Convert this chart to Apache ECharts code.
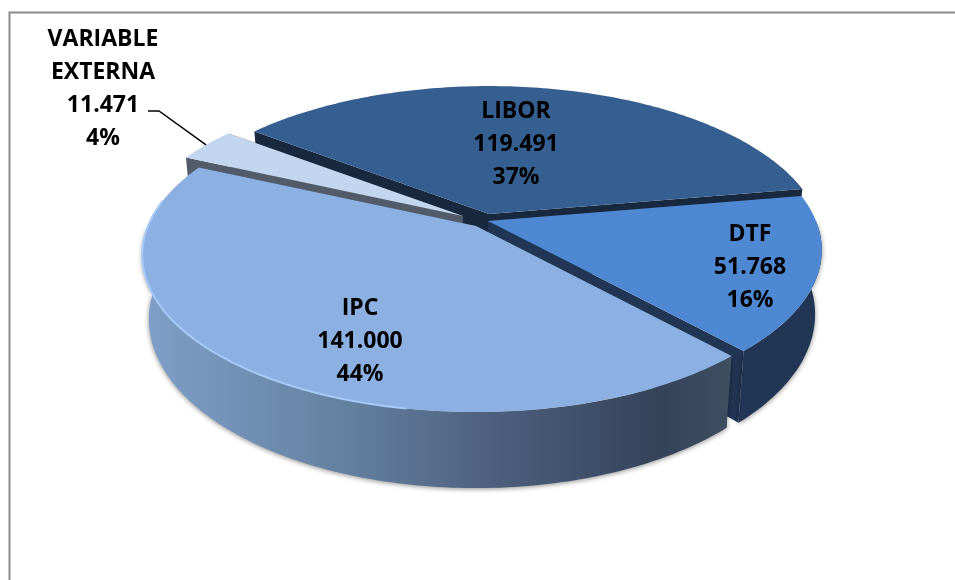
<!DOCTYPE html>
<html>
<head>
<meta charset="utf-8">
<title>Deuda por tasa</title>
<style>
  html, body { margin: 0; padding: 0; background: #fff; }
  #chart { width: 955px; height: 580px; }
</style>
<script src="https://cdn.jsdelivr.net/npm/echarts@6/dist/echarts.min.js"></script>
</head>
<body>
<div id="chart"></div>
<script>
// clockwise from the LIBOR slice
const categories = ['LIBOR', 'DTF', 'IPC', 'VARIABLE\nEXTERNA']
const values = [119491, 51768, 141000, 11471]
const percentLabels = ['37%', '16%', '44%', '4%']

// back to front, so the nearer slices hide the cut faces behind them
const drawOrder = [0, 3, 1, 2]

// tilted disc
const START_ANGLE = 217.3
const RX = 328
const RY = 151.6
const PERSPECTIVE = 0.185
const DEPTH = 62
const BOTTOM_SHRINK = 0.98

// slice apex after the explosion
const apexes = [[489, 214], [488, 221], [476, 226], [463, 216]]
const labelAt = [[516, 144], [750, 267], [360, 341], [103, 89]]

const wallGradient = new echarts.graphic.LinearGradient(0, 0, 1, 0, [
  { offset: 0, color: '#7f9fc9' },
  { offset: 0.35, color: '#64809f' },
  { offset: 0.6, color: '#4c5f7d' },
  { offset: 0.88, color: '#34435a' },
  { offset: 1, color: '#3e4f62' },
])
const sliceStyles = [
  { top: '#365f91', cut: '#17283f', wall: '#17283f' },
  { top: '#4f88d2', cut: '#213654', wall: '#213654' },
  { top: '#8bb0e1', cut: '#3b4c64', wall: wallGradient },
  { top: '#c3d6ef', cut: '#525b69', wall: '#525b69' },
]

const total = values.reduce((a, b) => a + b, 0)
const spans = []
values.reduce((from, v) => {
  const to = from + (v / total) * 360
  spans.push([from, to])
  return to
}, START_ANGLE)

// point of the disc at an angle (clockwise, 0 = right), r = 1 on the rim
const project = (apex, deg, r, bottom) => {
  const u = r * Math.cos((deg * Math.PI) / 180)
  const v = r * Math.sin((deg * Math.PI) / 180)
  const w = 1 - PERSPECTIVE * v
  const k = bottom ? BOTTOM_SHRINK : 1
  return [apex[0] + (k * RX * u) / w, apex[1] + (RY * v) / w + (bottom ? DEPTH / w : 0)]
}

const arc = (apex, from, to, bottom) => {
  const pts = []
  const n = Math.max(2, Math.ceil(Math.abs(to - from)))
  for (let i = 0; i <= n; i++) {
    pts.push(project(apex, from + ((to - from) * i) / n, 1, bottom))
  }
  return pts
}

const polygon = (points, fill, extra) => ({
  type: 'polygon',
  shape: { points },
  style: Object.assign({ fill }, extra),
})

const cutFace = (apex, deg, fill) =>
  polygon(
    [project(apex, deg, 0, false), project(apex, deg, 1, false), project(apex, deg, 1, true), project(apex, deg, 0, true)],
    fill
  )

// only the part of the rim that faces the viewer gets an outer wall
const frontWalls = (apex, from, to, fill) =>
  [[0, 180], [360, 540]]
    .map(([a, b]) => [Math.max(from, a), Math.min(to, b)])
    .filter(([a, b]) => b > a)
    .map(([a, b]) =>
      polygon(arc(apex, a, b, false).concat(arc(apex, b, a, true)), fill, {
        shadowBlur: 5,
        shadowColor: 'rgba(0,0,0,0.45)',
        shadowOffsetY: 1,
      })
    )

const renderSlice = (params, api) => {
  const i = api.value(0)
  const [from, to] = spans[i]
  const apex = apexes[i]
  const s = sliceStyles[i]
  const children = [
    cutFace(apex, from, s.cut),
    cutFace(apex, to, s.cut),
    ...frontWalls(apex, from, to, s.wall),
    polygon([project(apex, from, 0, false)].concat(arc(apex, from, to, false)), s.top),
  ]
  // light rim on the big slice, lower left
  if (categories[i] === 'IPC') {
    children.push({
      type: 'polyline',
      shape: { points: arc(apex, 100, 190, false) },
      style: { stroke: '#a6c9f7', lineWidth: 2, fill: null },
    })
  }
  // leader line of the small slice
  if (categories[i] === 'VARIABLE\nEXTERNA') {
    const mid = (from + to) / 2
    children.push({
      type: 'polyline',
      shape: { points: [[148, 111], [159, 111], project(apex, mid, 1, false)] },
      style: { stroke: '#000', lineWidth: 1.5, fill: null },
    })
  }
  return { type: 'group', children }
}

const labelText = i =>
  categories[i] + '\n' + values[i].toLocaleString('es-CO').replace(/,/g, '.') + '\n' + percentLabels[i]

const chart = echarts.init(document.getElementById('chart'), null, { renderer: 'canvas' })
chart.setOption({
  animation: false,
  backgroundColor: '#fff',
  graphic: [
    {
      type: 'polyline',
      silent: true,
      shape: { points: [[9.5, 580], [9.5, 12.5], [955, 12.5]] },
      style: { stroke: '#8c8c8c', lineWidth: 2, fill: null },
    },
    ...categories.map((c, i) => ({
      type: 'text',
      silent: true,
      z: 10,
      x: labelAt[i][0],
      y: labelAt[i][1],
      style: {
        text: labelText(i),
        fill: '#000',
        font: 'bold 23px "Open Sans", "Liberation Sans", sans-serif',
        lineHeight: 33,
        align: 'center',
        verticalAlign: 'middle',
      },
    })),
  ],
  series: [
    {
      type: 'custom',
      coordinateSystem: 'none',
      silent: true,
      data: drawOrder.map(i => [i, values[i]]),
      renderItem: renderSlice,
    },
  ],
})
window.addEventListener('resize', () => chart.resize())
</script>
</body>
</html>
